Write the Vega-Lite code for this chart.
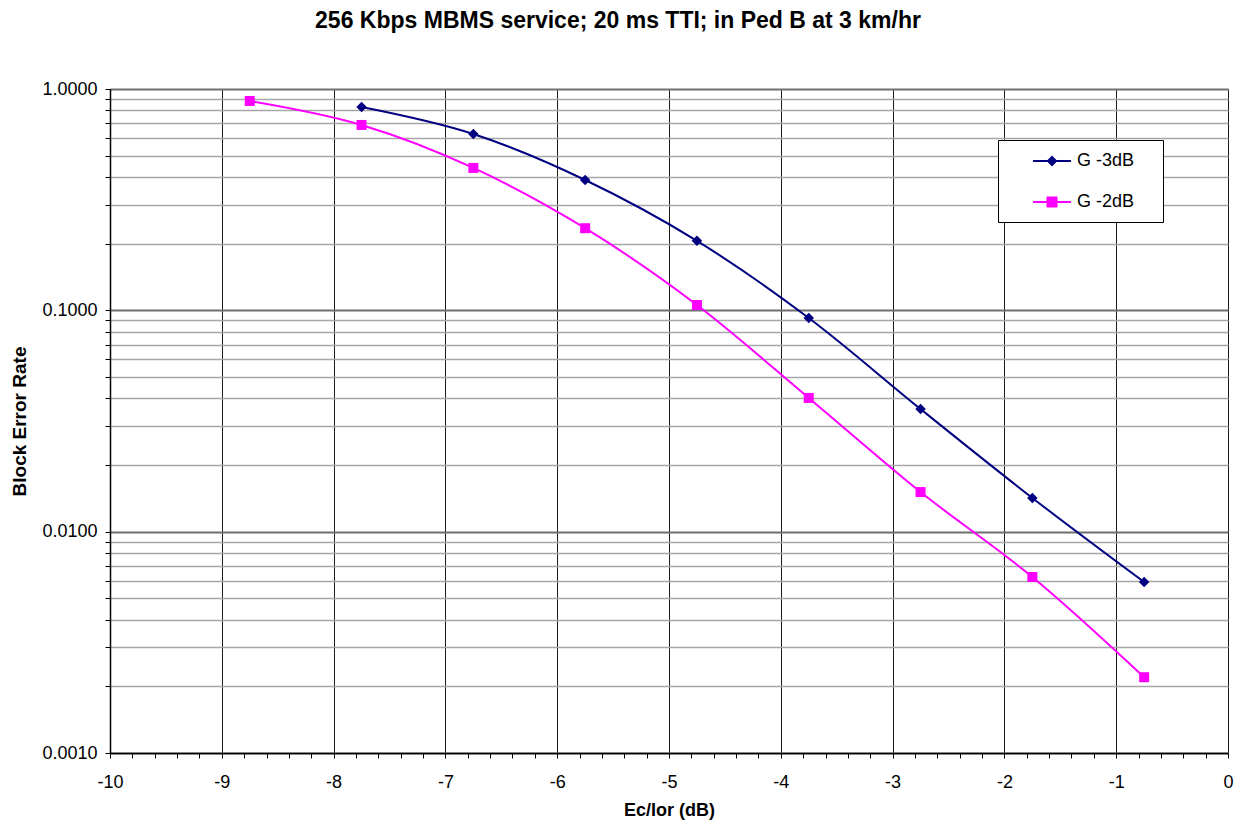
{
  "$schema": "https://vega.github.io/schema/vega-lite/v6.json",
  "width": 1118,
  "height": 664,
  "autosize": {"type": "none"},
  "padding": {"left": 110, "top": 89, "right": 11, "bottom": 72},
  "background": "white",
  "title": {
    "text": "256 Kbps MBMS service; 20 ms TTI; in Ped B at 3 km/hr",
    "font": "Liberation Sans",
    "fontSize": 23,
    "fontWeight": "bold",
    "anchor": "middle",
    "offset": 47,
    "dx": -51,
    "color": "black"
  },
  "config": {
    "view": {"stroke": null},
    "font": "Liberation Sans"
  },
  "data": {
    "values": [
      {"series": "G -3dB", "x": -7.75, "y": 0.829},
      {"series": "G -3dB", "x": -6.75, "y": 0.626},
      {"series": "G -3dB", "x": -5.75, "y": 0.388},
      {"series": "G -3dB", "x": -4.75, "y": 0.206},
      {"series": "G -3dB", "x": -3.75, "y": 0.0923},
      {"series": "G -3dB", "x": -2.75, "y": 0.0358},
      {"series": "G -3dB", "x": -1.75, "y": 0.0142},
      {"series": "G -3dB", "x": -0.75, "y": 0.00592},
      {"series": "G -2dB", "x": -8.75, "y": 0.883},
      {"series": "G -2dB", "x": -7.75, "y": 0.688},
      {"series": "G -2dB", "x": -6.75, "y": 0.44},
      {"series": "G -2dB", "x": -5.75, "y": 0.235},
      {"series": "G -2dB", "x": -4.75, "y": 0.1057},
      {"series": "G -2dB", "x": -3.75, "y": 0.0402},
      {"series": "G -2dB", "x": -2.75, "y": 0.0151},
      {"series": "G -2dB", "x": -1.75, "y": 0.00624},
      {"series": "G -2dB", "x": -0.75, "y": 0.0022}
    ]
  },
  "encoding": {
    "x": {
      "field": "x",
      "type": "quantitative",
      "scale": {"domain": [-10, 0], "nice": false, "zero": false},
      "axis": {
        "title": "Ec/Ior (dB)",
        "titleFont": "Liberation Sans",
        "titleFontSize": 18,
        "titleFontWeight": "bold",
        "titleColor": "black",
        "titlePadding": 10,
        "values": [-10, -9.8, -9.6, -9.4, -9.2, -9, -8.8, -8.6, -8.4, -8.2, -8, -7.8, -7.6, -7.4, -7.2, -7, -6.8, -6.6, -6.4, -6.2, -6, -5.8, -5.6, -5.4, -5.2, -5, -4.8, -4.6, -4.4, -4.2, -4, -3.8, -3.6, -3.4, -3.2, -3, -2.8, -2.6, -2.4, -2.2, -2, -1.8, -1.6, -1.4, -1.2, -1, -0.8, -0.6, -0.4, -0.2, 0],
        "labelExpr": "abs(datum.value - round(datum.value)) < 0.001 ? '' + round(datum.value) : ''",
        "labelFont": "Liberation Sans",
        "labelFontSize": 18,
        "labelColor": "black",
        "labelPadding": 15,
        "labelOverlap": false,
        "labelFlush": false,
        "grid": true,
        "gridColor": "#1a1a1a",
        "gridWidth": 1,
        "gridOpacity": {"condition": {"test": "abs(datum.value - round(datum.value)) < 0.001", "value": 1}, "value": 0},
        "tickColor": "#000",
        "tickSize": 5,
        "domainColor": "#000",
        "domainWidth": 1.5
      }
    },
    "y": {
      "field": "y",
      "type": "quantitative",
      "scale": {"type": "log", "domain": [0.001, 1], "nice": false},
      "axis": {
        "title": "Block Error Rate",
        "titleFont": "Liberation Sans",
        "titleFontSize": 19,
        "titleFontWeight": "bold",
        "titleColor": "black",
        "titlePadding": 12,
        "values": [0.001, 0.002, 0.003, 0.004, 0.005, 0.006, 0.007, 0.008, 0.009, 0.01, 0.02, 0.03, 0.04, 0.05, 0.06, 0.07, 0.08, 0.09, 0.1, 0.2, 0.3, 0.4, 0.5, 0.6, 0.7, 0.8, 0.9, 1],
        "labelExpr": "indexof(['0.001','0.01','0.1','1'], '' + datum.value) >= 0 ? format(datum.value, '.4f') : ''",
        "labelFont": "Liberation Sans",
        "labelFontSize": 18,
        "labelColor": "black",
        "labelPadding": 8,
        "labelOverlap": false,
        "labelFlush": false,
        "grid": true,
        "gridColor": {"condition": {"test": "indexof(['0.001','0.01','0.1','1'], '' + datum.value) >= 0", "value": "#6e6e6e"}, "value": "#a6a6a6"},
        "gridWidth": {"condition": {"test": "indexof(['0.001','0.01','0.1','1'], '' + datum.value) >= 0", "value": 2}, "value": 1.3},
        "tickColor": "#000",
        "tickSize": 5,
        "domainColor": "#000",
        "domainWidth": 1.5
      }
    },
    "color": {
      "field": "series",
      "type": "nominal",
      "scale": {"domain": ["G -3dB", "G -2dB"], "range": ["#000080", "#FF00FF"]},
      "legend": {
        "title": " ",
        "titleOrient": "right",
        "titleFontSize": 2,
        "titlePadding": 18,
        "orient": "none",
        "legendX": 888,
        "legendY": 51,
        "strokeColor": "#000",
        "fillColor": "#fff",
        "padding": 11,
        "symbolSize": 324,
        "symbolType": "M1.556,0L5.778,0M3.667,-0.45L4.117,0L3.667,0.45L3.217,0Z",
        "rowPadding": 22,
        "labelOffset": 48,
        "labelFont": "Liberation Sans",
        "labelFontSize": 18,
        "labelColor": "black",
        "symbolStrokeWidth": 2,
        "encoding": {
          "symbols": {
            "shape": {"value": {"expr": "datum.value === 'G -3dB' ? 'M1.556,0L5.778,0M3.667,-0.45L4.117,0L3.667,0.45L3.217,0Z' : 'M1.556,0L5.778,0M3.167,-0.5L4.167,-0.5L4.167,0.5L3.167,0.5Z'"}},
            "fill": {"value": {"expr": "datum.value === 'G -3dB' ? '#000080' : '#FF00FF'"}},
            "stroke": {"value": {"expr": "datum.value === 'G -3dB' ? '#000080' : '#FF00FF'"}},
            "strokeWidth": {"value": 2},
            "opacity": {"value": 1},
            "fillOpacity": {"value": 1}
          }
        }
      }
    }
  },
  "layer": [
    {"mark": {"type": "line", "interpolate": "cardinal", "tension": 0, "strokeWidth": 2}},
    {
      "transform": [{"filter": "datum.series === 'G -3dB'"}],
      "mark": {"type": "point", "shape": "diamond", "filled": true, "opacity": 1, "size": 110}
    },
    {
      "transform": [{"filter": "datum.series === 'G -2dB'"}],
      "mark": {"type": "point", "shape": "square", "filled": true, "opacity": 1, "size": 100}
    }
  ]
}
